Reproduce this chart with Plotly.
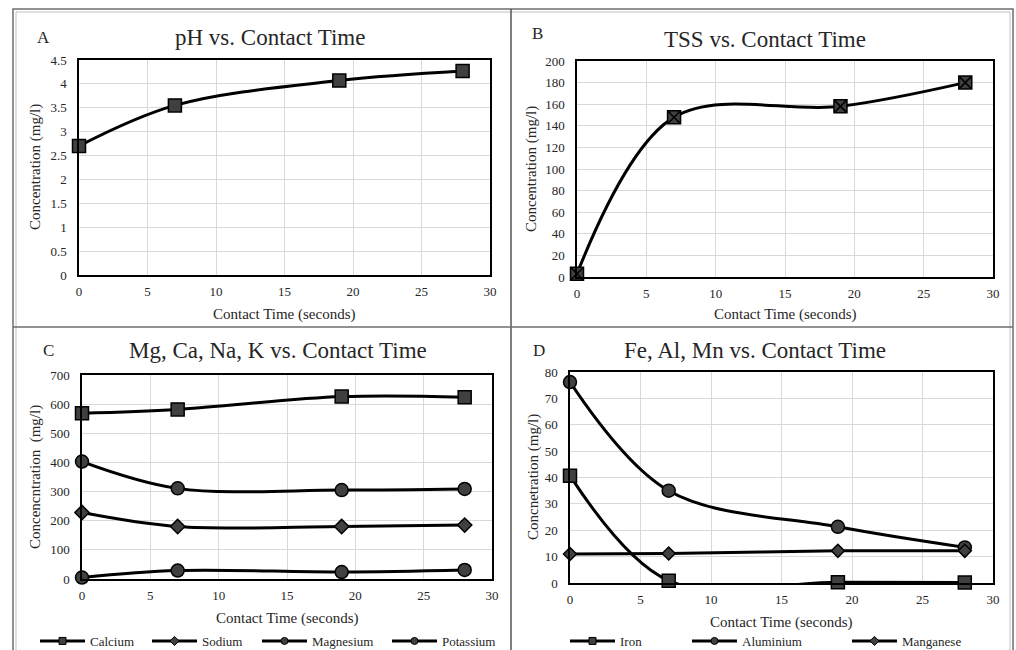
import plotly.graph_objects as go

# ---------------- data ----------------
contact_time = [0, 7, 19, 28]

ph_values = [2.70, 3.55, 4.07, 4.27]
tss_values = [3, 148, 158, 180]

calcium = [569, 582, 626, 624]
sodium = [228, 180, 180, 185]
magnesium = [403, 311, 305, 309]
potassium = [5, 29, 24, 31]

iron = [40.7, 0.9, 0.3, 0.2]
aluminium = [76.2, 35.0, 21.3, 13.5]
manganese = [11.0, 11.2, 12.2, 12.2]

x_ticks = [0, 5, 10, 15, 20, 25, 30]
x_title = "Contact Time (seconds)"

# ---------------- layout helpers ----------------
W, H = 1016, 650
def px(x):
    return x / W
def py(y):
    return 1 - y / H

FONT = "Liberation Serif, Times New Roman, serif"
TXT = "#262626"
GRID = "#d9d9d9"
MFILL = "#404040"

fig = go.Figure()
legend_layouts = {}

def add_series(xa, ya, xs, ys, symbol, size, name=None, legend_x=None):
    fig.add_trace(go.Scatter(
        x=xs, y=ys, mode="lines+markers",
        line=dict(color="black", width=3, shape="spline", smoothing=1),
        marker=dict(symbol=symbol, size=size, color=MFILL,
                    line=dict(color="black", width=1.5)),
        xaxis=xa, yaxis=ya, showlegend=False, cliponaxis=False,
        name=name or "", hoverinfo="x+y"))
    if name:
        k = len(legend_layouts) + 1
        lid = "legend" if k == 1 else f"legend{k}"
        legend_layouts[lid] = dict(
            orientation="h", x=px(legend_x - 8), y=py(641),
            xanchor="left", yanchor="middle", itemwidth=45,
            font=dict(family=FONT, size=13, color=TXT),
            bgcolor="rgba(0,0,0,0)", itemsizing="trace")
        fig.add_trace(go.Scatter(
            x=[None], y=[None], mode="lines+markers", name=name,
            line=dict(color="black", width=3),
            marker=dict(symbol=symbol, size=7, color=MFILL,
                        line=dict(color="black", width=1)),
            xaxis=xa, yaxis=ya, showlegend=True, legend=lid))

# Panel A
add_series("x", "y", contact_time, ph_values, "square", 13)
# Panel B
add_series("x2", "y2", contact_time, tss_values, "square-x", 13)
# Panel C
add_series("x3", "y3", contact_time, calcium, "square", 13, "Calcium", 43)
add_series("x3", "y3", contact_time, sodium, "diamond", 11, "Sodium", 155)
add_series("x3", "y3", contact_time, magnesium, "circle", 13, "Magnesium", 265)
add_series("x3", "y3", contact_time, potassium, "circle", 13, "Potassium", 395)
# Panel D
add_series("x4", "y4", contact_time, iron, "square", 13, "Iron", 573)
add_series("x4", "y4", contact_time, aluminium, "circle", 13, "Aluminium", 695)
add_series("x4", "y4", contact_time, manganese, "diamond", 10, "Manganese", 855)

def xaxis(dom, anchor):
    return dict(domain=dom, anchor=anchor, range=[0, 30], tickvals=x_ticks,
                showgrid=True, gridcolor=GRID, gridwidth=1, zeroline=False,
                showline=True, linecolor="black", linewidth=1.5, mirror=True,
                ticks="", ticklabelstandoff=4, automargin=False,
                tickfont=dict(family=FONT, size=13, color=TXT),
                fixedrange=True)

def yaxis(dom, anchor, rng, dt):
    return dict(domain=dom, anchor=anchor, range=[rng[0], rng[1]], dtick=dt,
                showgrid=True, gridcolor=GRID, gridwidth=1, zeroline=False,
                showline=True, linecolor="black", linewidth=1.5, mirror=True,
                ticks="", ticklabelstandoff=8, automargin=False,
                tickfont=dict(family=FONT, size=13, color=TXT),
                fixedrange=True)

A_x = [px(79), px(490)]; A_y = [py(275), py(60)]
B_x = [px(577), px(993)]; B_y = [py(277), py(61)]
C_x = [px(82), px(492)]; C_y = [py(579), py(375)]
D_x = [px(570), px(993)]; D_y = [py(583), py(372)]

fig.update_layout(
    width=W, height=H,
    margin=dict(l=0, r=0, t=0, b=0, autoexpand=False),
    paper_bgcolor="white", plot_bgcolor="white",
    font=dict(family=FONT, color=TXT),
    xaxis=xaxis(A_x, "y"),
    yaxis=yaxis(A_y, "x", [0, 4.5], 0.5),
    xaxis2=xaxis(B_x, "y2"),
    yaxis2=yaxis(B_y, "x2", [0, 200], 20),
    xaxis3=xaxis(C_x, "y3"),
    yaxis3=yaxis(C_y, "x3", [0, 700], 100),
    xaxis4=xaxis(D_x, "y4"),
    yaxis4=yaxis(D_y, "x4", [0, 80], 10),
    **legend_layouts,
)

# Titles, panel letters, axis titles
titles = [("pH vs. Contact Time", 270, 37, "A", 43, 37),
          ("TSS vs. Contact Time", 765, 39, "B", 537, 33),
          ("Mg, Ca, Na, K vs. Contact Time", 278, 350, "C", 48, 350),
          ("Fe, Al, Mn vs. Contact Time", 755, 350, "D", 539, 350)]
for t, tx, ty, letter, lx, ly in titles:
    fig.add_annotation(text=t, x=px(tx), y=py(ty), xref="paper", yref="paper",
                       showarrow=False, xanchor="center", yanchor="middle",
                       font=dict(family=FONT, size=23, color=TXT))
    fig.add_annotation(text=letter, x=px(lx), y=py(ly), xref="paper", yref="paper",
                       showarrow=False, xanchor="center", yanchor="middle",
                       font=dict(family=FONT, size=17, color=TXT))

x_titles = [(284, 314), (785, 314), (287, 618), (781, 622)]
for tx, ty in x_titles:
    fig.add_annotation(text=x_title, x=px(tx), y=py(ty), xref="paper", yref="paper",
                       showarrow=False, xanchor="center", yanchor="middle",
                       font=dict(family=FONT, size=15, color=TXT))

y_titles = [("Concentration (mg/l)", 35, 167),
            ("Concentration (mg/l)", 531, 169),
            ("Concencntration  (mg/l)", 35, 477),
            ("Concnetration (mg/l)", 533, 477)]
for t, tx, ty in y_titles:
    fig.add_annotation(text=t, x=px(tx), y=py(ty), xref="paper", yref="paper",
                       showarrow=False, xanchor="center", yanchor="middle",
                       textangle=-90, font=dict(family=FONT, size=15, color=TXT))

# Frames
shapes = [
    dict(type="rect", x0=px(13), x1=px(1013), y0=py(9), y1=py(700),
         line=dict(color="#6e6e6e", width=1.5)),
    dict(type="rect", x0=px(16), x1=px(1010), y0=py(12), y1=py(700),
         line=dict(color="#c0c0c0", width=1)),
    dict(type="line", x0=px(511), x1=px(511), y0=py(9), y1=py(700),
         line=dict(color="#555555", width=1.5)),
    dict(type="line", x0=px(13), x1=px(1013), y0=py(327), y1=py(327),
         line=dict(color="#6e6e6e", width=1.5)),
]
for s in shapes:
    s.update(xref="paper", yref="paper", layer="above")
fig.update_layout(shapes=shapes)

fig.write_html("out.html",
               config={"displayModeBar": False},
               post_script="document.body.style.margin='0px';"
                           "document.body.style.overflow='hidden';")
